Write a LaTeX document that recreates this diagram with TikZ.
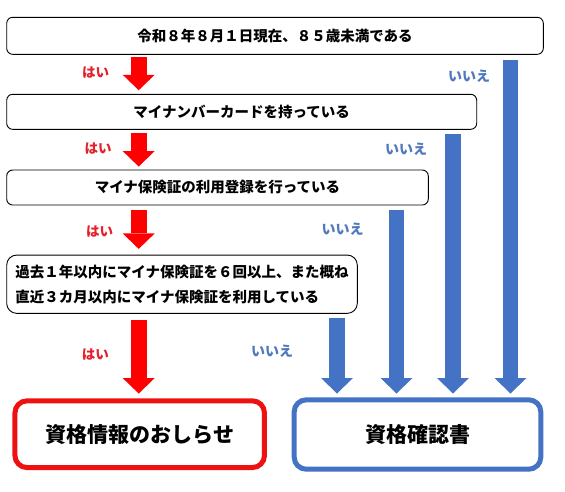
\documentclass[tikz,border=0pt]{standalone}
\usepackage{fontspec}
\setmainfont{Noto Sans CJK JP}
\usetikzlibrary{arrows.meta}
\definecolor{myred}{HTML}{FF0000}
\definecolor{boxred}{HTML}{EE1111}
\definecolor{myblue}{HTML}{4472C4}
\definecolor{labred}{HTML}{E5202A}
\definecolor{labblue}{HTML}{5079BF}
\begin{document}
\begin{tikzpicture}[x=1pt,y=-1pt,
  qbox/.style={draw=black, line width=0.9pt, rounded corners=6pt, inner sep=0pt,
    font=\fontsize{14.5}{25}\selectfont\bfseries},
  outbox/.style={line width=5pt, rounded corners=12pt, inner sep=0pt,
    font=\fontsize{21}{25}\selectfont\bfseries},
  yeslabel/.style={text=labred, inner sep=0pt, font=\fontsize{13.5}{16}\selectfont\bfseries},
  nolabel/.style={text=labblue, inner sep=0pt, font=\fontsize{14}{16}\selectfont\bfseries},
  yesarrow/.style={draw=myred, line width=16pt, -{Triangle[width=32pt,length=15.5pt,line width=0pt]}},
  noarrow/.style={draw=myblue, line width=15.6pt, -{Triangle[width=32pt,length=15.5pt,line width=0pt]}}]
\useasboundingbox (0,0) rectangle (565,491);
\fill[white] (0,0) rectangle (565,491);

% question boxes
\node[qbox, minimum width=536.6pt, minimum height=37pt] (q1) at (275,35.8) {令和８年８月１日現在、８５歳未満である};
\node[qbox, minimum width=470pt, minimum height=35pt] (q2) at (241.7,111.8) {マイナンバーカードを持っている};
\node[qbox, minimum width=421.6pt, minimum height=35pt] (q3) at (217.5,187.5) {マイナ保険証の利用登録を行っている};
\node[qbox, rounded corners=10pt, minimum width=350.6pt, minimum height=58.3pt, align=left] (q4) at (182,284.2)
  {過去１年以内にマイナ保険証を６回以上、また概ね\\直近３カ月以内にマイナ保険証を利用している};

% result boxes
\node[outbox, draw=boxred, minimum width=249.5pt, minimum height=66.7pt] (r1) at (139.7,434.2) {資格情報のおしらせ};
\node[outbox, draw=myblue, minimum width=246.6pt, minimum height=69.4pt] (r2) at (417.5,434.5) {資格確認書};

% x positions
\coordinate (rx) at (138.7,0);
\coordinate (b1) at (510.5,60);
\coordinate (b2) at (453,134);
\coordinate (b3) at (396.5,210);
\coordinate (b4) at (337,318);

% yes arrows
\draw[yesarrow] ([yshift=-2.7pt]q1.south -| rx) -- ([yshift=3.6pt]q2.north -| rx);
\draw[yesarrow] ([yshift=-3.7pt]q2.south -| rx) -- ([yshift=3pt]q3.north -| rx);
\draw[yesarrow] ([yshift=-4.3pt]q3.south -| rx) -- ([yshift=5.7pt]q4.north -| rx);
\draw[yesarrow] ([yshift=-6pt]q4.south -| rx) -- ([yshift=4.8pt]r1.north -| rx);

% no arrows
\draw[noarrow] (b1) -- ([yshift=3.8pt]r2.north -| b1);
\draw[noarrow] (b2) -- ([yshift=3.8pt]r2.north -| b2);
\draw[noarrow] (b3) -- ([yshift=3.8pt]r2.north -| b3);
\draw[noarrow] (b4) -- ([yshift=3.8pt]r2.north -| b4);

% labels
\node[yeslabel] (y1) at (95.5,73) {はい};
\node[yeslabel] (y2) at (98,149) {はい};
\node[yeslabel] (y3) at (99.5,231.5) {はい};
\node[yeslabel] (y4) at (95.3,355) {はい};
\node[nolabel] (n1) at (469,76) {いいえ};
\node[nolabel] (n2) at (406,149) {いいえ};
\node[nolabel] (n3) at (342.5,229) {いいえ};
\node[nolabel] (n4) at (272,351.7) {いいえ};
\end{tikzpicture}
\end{document}
